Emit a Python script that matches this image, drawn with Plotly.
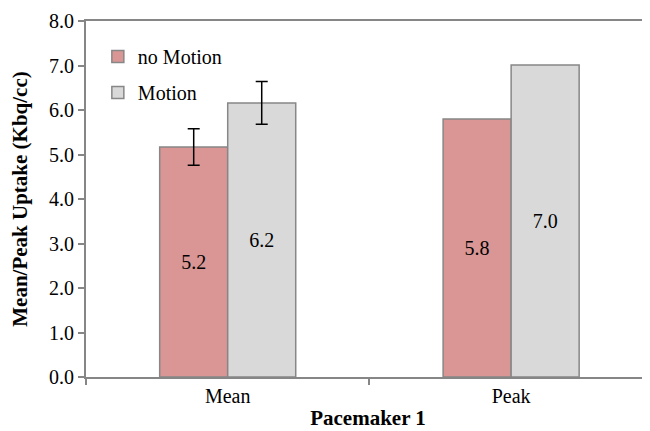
import plotly.graph_objects as go

categories = ["Mean", "Peak"]
no_motion = [5.17, 5.80]
motion = [6.16, 7.01]
no_motion_err = [0.41, 0.0]   # only the Mean bar carries an error bar
motion_err = [0.48, 0.0]
no_motion_labels = ["5.2", "5.8"]
motion_labels = ["6.2", "7.0"]
series = [
    ("no Motion", no_motion, no_motion_err, no_motion_labels, "#d99694", "a"),
    ("Motion", motion, motion_err, motion_labels, "#d9d9d9", "b"),
]

font_family = "Liberation Serif"
axis_col = "#868686"

fig = go.Figure()
for name, vals, errs, labels, color, grp in series:
    for i, cat in enumerate(categories):
        has_err = errs[i] > 0
        fig.add_trace(go.Bar(
            name=name, x=[cat], y=[vals[i]],
            offsetgroup=grp, legendgroup=grp, showlegend=(i == 0),
            marker=dict(color=color, line=dict(color="#878787", width=1.5)),
            error_y=dict(type="data", array=[errs[i]], color="black", thickness=1.5,
                         width=6, visible=has_err),
            text=[labels[i]], textposition="inside", insidetextanchor="middle",
            textfont=dict(family=font_family, size=20, color="black"),
        ))

fig.update_layout(
    width=642, height=423,
    margin=dict(l=78, r=0, t=13, b=54),
    paper_bgcolor="white", plot_bgcolor="white",
    barmode="group", bargap=0.52, bargroupgap=0,
    font=dict(family=font_family, size=20, color="black"),
    uniformtext=dict(mode="show", minsize=10),
    legend=dict(x=0.021, y=0.955, xanchor="left", yanchor="top",
                font=dict(family=font_family, size=20), tracegroupgap=7,
                bgcolor="rgba(0,0,0,0)"),
    showlegend=True,
)
fig.update_xaxes(
    range=[-0.5, 1.49], showline=True, linecolor=axis_col, linewidth=2,
    mirror=True, ticks="outside", tickson="boundaries", ticklen=6, tickcolor=axis_col,
    tickwidth=1.5, showgrid=False, automargin=False,
    title=dict(text="<b>Pacemaker 1</b>", font=dict(family=font_family, size=21), standoff=4),
    tickfont=dict(family=font_family, size=20),
)
fig.update_yaxes(
    range=[0, 8], dtick=1, tickformat=".1f", showline=True, linecolor=axis_col, linewidth=2,
    ticks="outside", ticklen=6, tickcolor=axis_col, tickwidth=1.5, showgrid=False, zeroline=False,
    automargin=False,
    title=dict(text="<b>Mean/Peak Uptake (Kbq/cc)</b>", font=dict(family=font_family, size=21), standoff=20),
    tickfont=dict(family=font_family, size=20),
)

fig.write_html("out.html")
